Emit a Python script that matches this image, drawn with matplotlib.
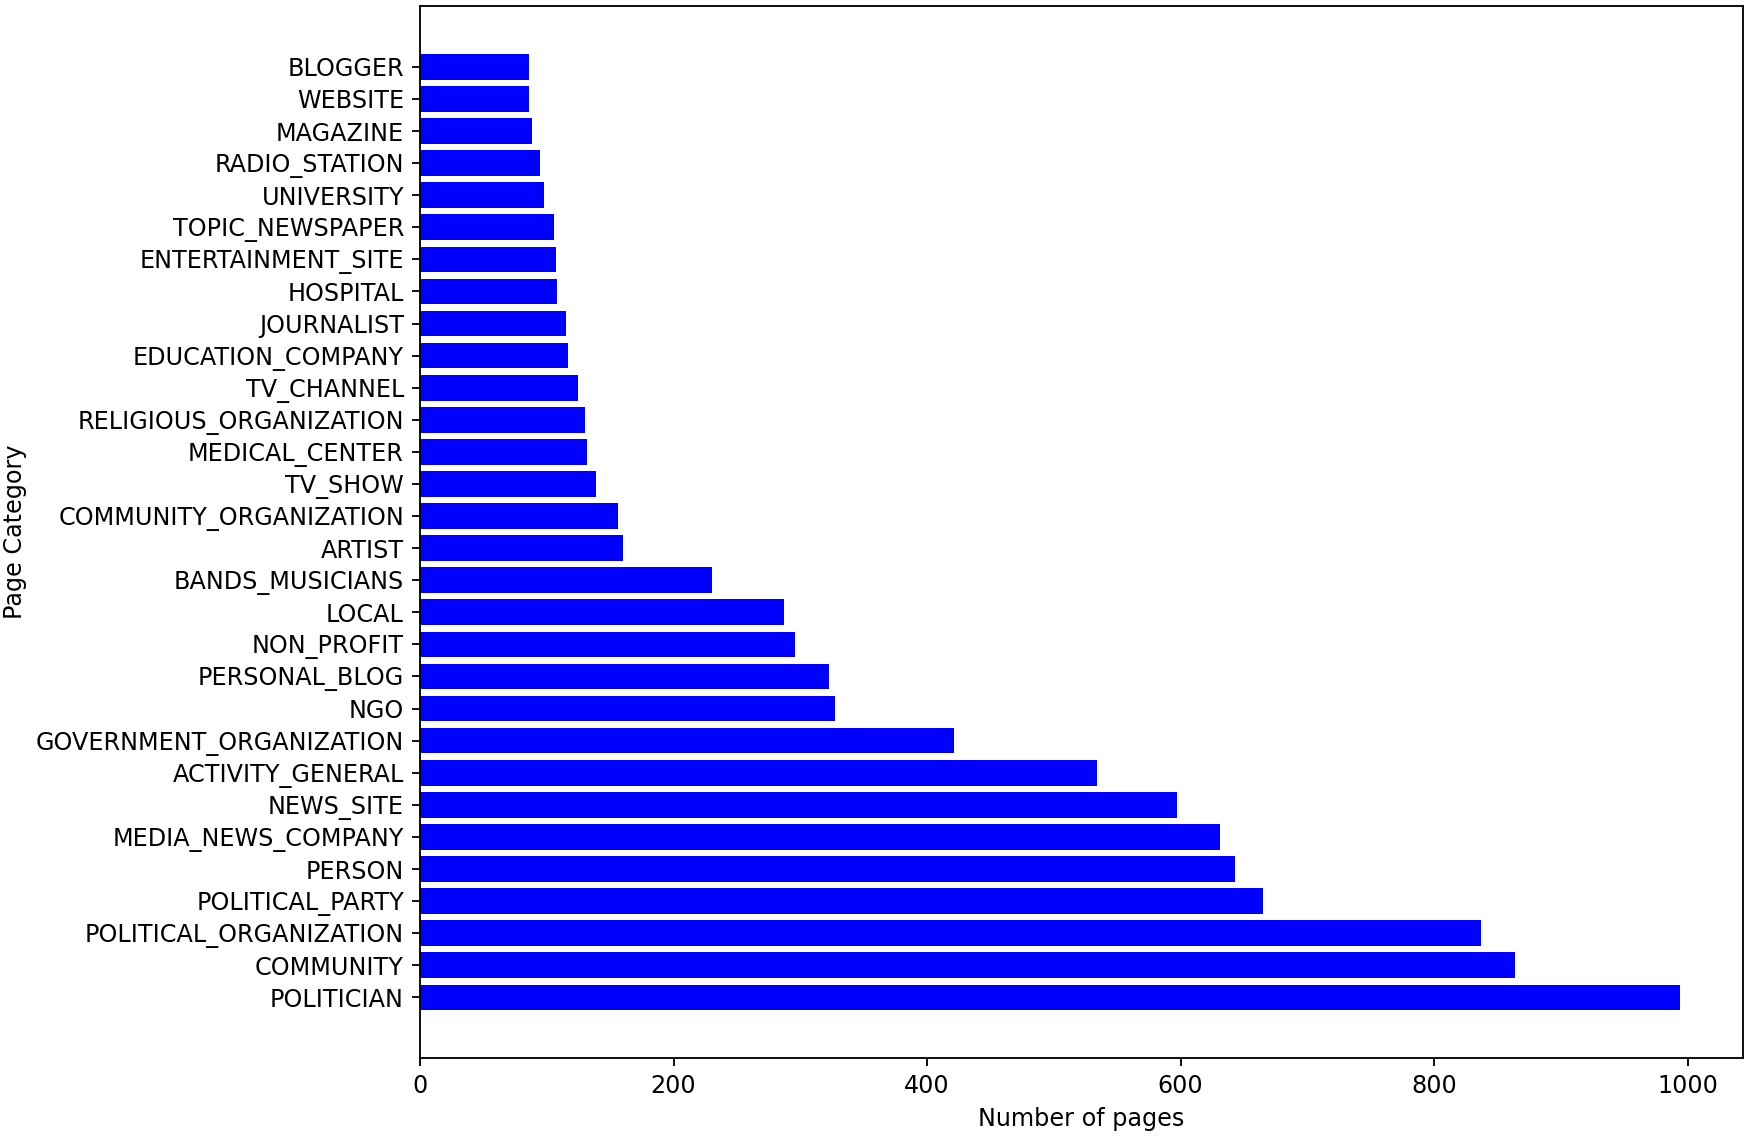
import matplotlib
matplotlib.use("Agg")
import matplotlib.pyplot as plt

# page categories, largest first (drawn from the bottom up)
categories = [
    "POLITICIAN", "COMMUNITY", "POLITICAL_ORGANIZATION", "POLITICAL_PARTY",
    "PERSON", "MEDIA_NEWS_COMPANY", "NEWS_SITE", "ACTIVITY_GENERAL",
    "GOVERNMENT_ORGANIZATION", "NGO", "PERSONAL_BLOG", "NON_PROFIT", "LOCAL",
    "BANDS_MUSICIANS", "ARTIST", "COMMUNITY_ORGANIZATION", "TV_SHOW",
    "MEDICAL_CENTER", "RELIGIOUS_ORGANIZATION", "TV_CHANNEL",
    "EDUCATION_COMPANY", "JOURNALIST", "HOSPITAL", "ENTERTAINMENT_SITE",
    "TOPIC_NEWSPAPER", "UNIVERSITY", "RADIO_STATION", "MAGAZINE", "WEBSITE",
    "BLOGGER",
]
n_pages = [
    994, 864, 837, 665,
    643, 631, 597, 534,
    421, 327, 323, 296, 287,
    230, 160, 156, 139,
    132, 130, 125,
    117, 115, 108, 107,
    106, 98, 95, 88, 86,
    86,
]

plt.rcParams["font.size"] = 10.4

dpi = 165
fig = plt.figure(figsize=(1750 / dpi, 1137 / dpi), dpi=dpi)
ax = fig.add_axes([0.24, 0.0695, 0.756, 0.925])

ax.barh(categories, n_pages, color="blue")
ax.set_xlabel("Number of pages")
ax.set_ylabel("Page Category")

fig.savefig("out.png", dpi=dpi)
